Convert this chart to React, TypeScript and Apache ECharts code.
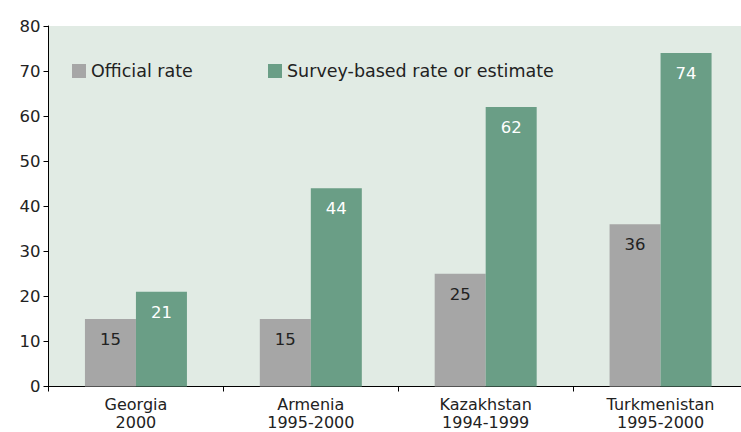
import React, { useEffect, useRef } from "react";
import * as echarts from "echarts";

const categories = ["Georgia\n2000", "Armenia\n1995-2000", "Kazakhstan\n1994-1999", "Turkmenistan\n1995-2000"];
const officialRate = [15, 15, 25, 36];
const surveyRate = [21, 44, 62, 74];
const yTicks = { min: 0, max: 80, interval: 10 };

const FONT = "DejaVu Sans";

export default function App() {
  const ref = useRef<HTMLDivElement>(null);
  useEffect(() => {
    if (!ref.current) return;
    const chart = echarts.init(ref.current, null, { renderer: "svg" });
    chart.setOption({
      animation: false,
      textStyle: { fontFamily: FONT },
      grid: {
        left: 48.5,
        right: -7,
        top: 26,
        bottom: 45.5,
        show: true,
        backgroundColor: "#e1ebe4",
        borderWidth: 0,
        outerBoundsMode: "none",
        containLabel: false,
      },
      legend: [
        {
          data: ["Official rate"],
          left: 72,
          top: 62,
          itemWidth: 14,
          itemHeight: 14,
          itemGap: 5,
          padding: 0,
          icon: "rect",
          textStyle: { fontSize: 17.5, color: "#222", fontFamily: FONT, padding: [0, 0, 3, 0] },
        },
        {
          data: ["Survey-based rate or estimate"],
          left: 268,
          top: 62,
          itemWidth: 14,
          itemHeight: 14,
          padding: 0,
          icon: "rect",
          textStyle: { fontSize: 17.5, color: "#222", fontFamily: FONT, padding: [0, 0, 3, 0] },
        },
      ],
      xAxis: {
        type: "category",
        data: categories,
        axisLine: { lineStyle: { color: "#000", width: 1 } },
        axisTick: { show: true, length: 5, lineStyle: { color: "#000" } },
        axisLabel: {
          color: "#222",
          fontSize: 16,
          lineHeight: 18,
          margin: 9,
          fontFamily: FONT,
        },
      },
      yAxis: {
        type: "value",
        min: yTicks.min,
        max: yTicks.max,
        interval: yTicks.interval,
        axisLine: { show: true, lineStyle: { color: "#000", width: 1 } },
        axisTick: { show: true, length: 5, lineStyle: { color: "#000" } },
        splitLine: { show: false },
        axisLabel: { color: "#222", fontSize: 16.5, margin: 8, fontFamily: FONT },
      },
      series: [
        {
          name: "Official rate",
          type: "bar",
          data: officialRate,
          barWidth: 51,
          barGap: "0%",
          itemStyle: { color: "#a6a6a6" },
          label: {
            show: true,
            position: "insideTop",
            distance: 12,
            color: "#222",
            fontSize: 16.5,
            fontFamily: FONT,
          },
        },
        {
          name: "Survey-based rate or estimate",
          type: "bar",
          data: surveyRate,
          barWidth: 51,
          barGap: "0%",
          itemStyle: { color: "#6a9e86" },
          label: {
            show: true,
            position: "insideTop",
            distance: 12,
            color: "#ffffff",
            fontSize: 16.5,
            fontFamily: FONT,
          },
        },
      ],
    });
    return () => chart.dispose();
  }, []);
  return <div ref={ref} style={{ width: 741, height: 432, position: "absolute", left: 0, top: 0 }} />;
}
